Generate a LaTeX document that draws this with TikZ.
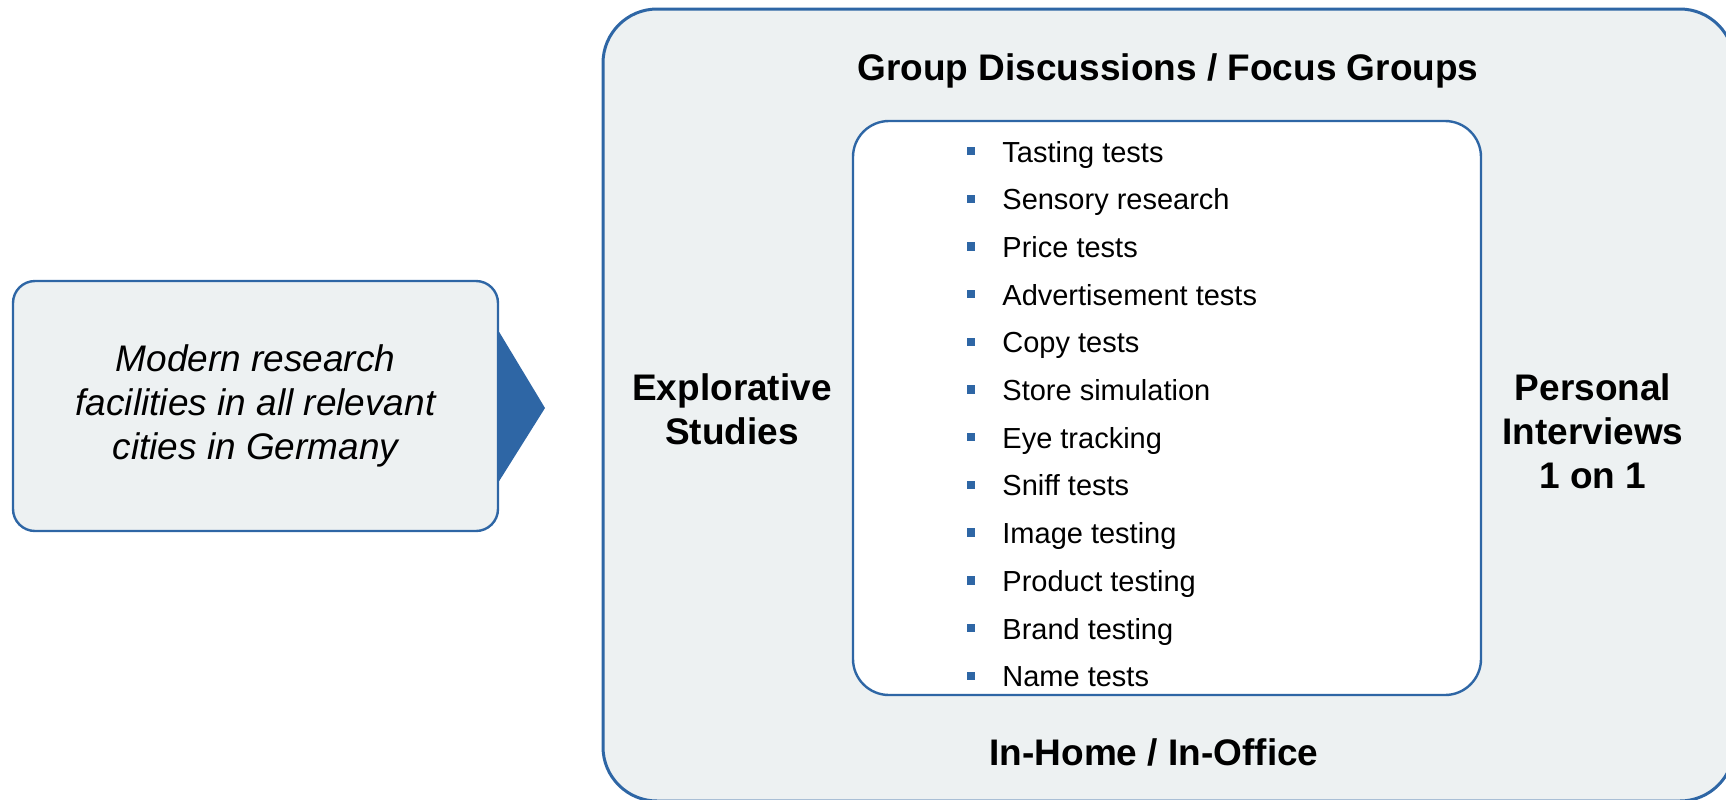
\documentclass[tikz,border=0pt]{standalone}
\usepackage{fontspec}
\setmainfont{Liberation Sans}
\usetikzlibrary{positioning}
\definecolor{boxblue}{HTML}{2E66A5}
\definecolor{panelgray}{HTML}{EDF1F2}

\begin{document}
\begin{tikzpicture}[x=0.5pt, y=-0.5pt,
  panel/.style={draw=boxblue, fill=panelgray, line width=1.5pt},
  listbox/.style={draw=boxblue, fill=white, line width=1.2pt, rounded corners=18pt},
  heading/.style={font=\fontsize{18.5}{22}\selectfont\bfseries, align=center},
  item/.style={font=\fontsize{14.5}{17}\selectfont, anchor=base west, inner sep=0pt},
  sqbullet/.style={fill=boxblue, minimum size=4.2pt, inner sep=0pt}]
  \clip (0,0) rectangle (1726,799);
  % outer panel and list box
  \node (outer) [panel, rounded corners=27pt, minimum width=565.5pt, minimum height=396pt] at (1168.5,405) {};
  \node (inner) [listbox, minimum width=314pt, minimum height=287pt] at (1167,408) {};

  % callout on the left
  \node (facil) [panel, line width=1.2pt, rounded corners=11pt, minimum width=242.5pt, minimum height=125pt,
    font=\fontsize{18.5}{22}\selectfont\itshape, align=center] at (255.5,406)
    {Modern research\\facilities in all relevant\\cities in Germany};
  \coordinate (tip) at (545,408);
  \fill [boxblue] ([yshift=37pt]facil.east) -- (tip) -- ([yshift=-37.5pt]facil.east) -- cycle;

  % headings round the list
  \node (groups) [heading] at (1168,71) {Group Discussions / Focus Groups};
  \node (home) [heading] at (1154,752) {In-Home / In-Office};
  \node (explor) [heading] at (732,409) {Explorative\\Studies};
  \node (personal) [heading] at (1593,431) {Personal\\Interviews\\1 on 1};

  % list of tests
  \foreach \txt [count=\i from 0] in {Tasting tests, Sensory research, Price tests,
    Advertisement tests, Copy tests, Store simulation, Eye tracking, Sniff tests,
    Image testing, Product testing, Brand testing, Name tests} {
    \node (b\i) [sqbullet] at (971,{151+47.7*\i}) {};
    \node (t\i) [item] at (1002,{162+47.7*\i}) {\txt};
  }
\end{tikzpicture}
\end{document}
